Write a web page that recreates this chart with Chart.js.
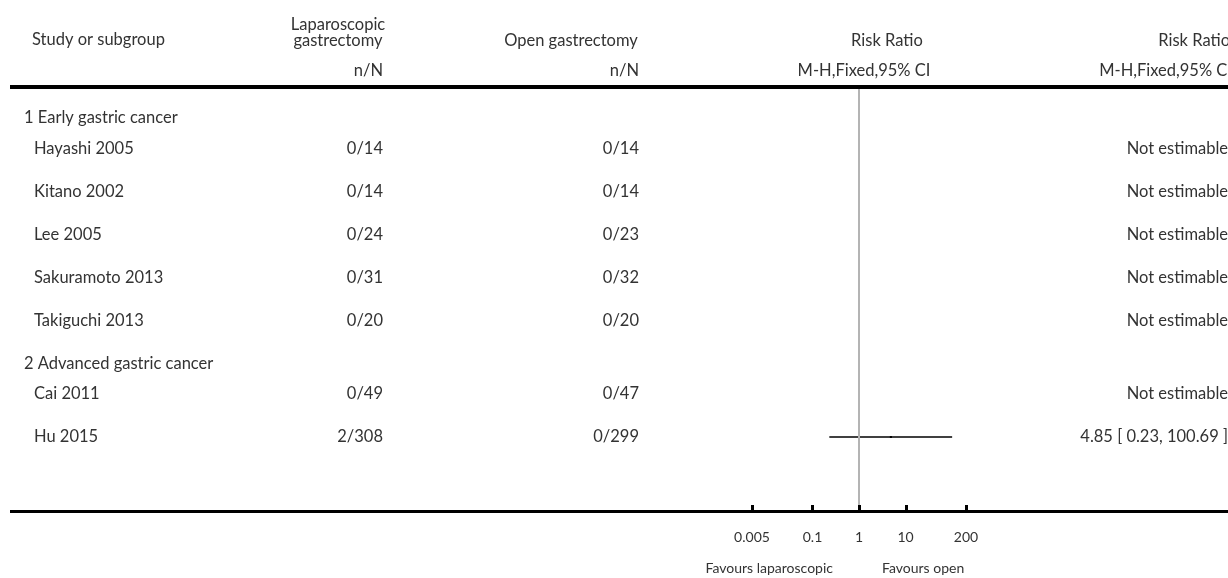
<!DOCTYPE html>
<html>
<head>
<meta charset="utf-8">
<script src="https://cdn.jsdelivr.net/npm/chart.js@4.4.0/dist/chart.umd.min.js"></script>
<style>
  html, body { margin: 0; padding: 0; background: #fff; }
  #wrap { width: 1228px; height: 578px; position: relative; }
</style>
</head>
<body>
<div id="wrap"><canvas id="forest"></canvas></div>
<script>
// data
const subgroups = ["1 Early gastric cancer", "2 Advanced gastric cancer"];
const studyGroup = [0, 0, 0, 0, 0, 1, 1];
const studies = ["Hayashi 2005", "Kitano 2002", "Lee 2005", "Sakuramoto 2013", "Takiguchi 2013", "Cai 2011", "Hu 2015"];
const lapEvents = [0, 0, 0, 0, 0, 0, 2];
const lapTotals = [14, 14, 24, 31, 20, 49, 308];
const openEvents = [0, 0, 0, 0, 0, 0, 0];
const openTotals = [14, 14, 23, 32, 20, 47, 299];
const riskRatio = [null, null, null, null, null, null, 4.85];
const ciLow = [null, null, null, null, null, null, 0.23];
const ciHigh = [null, null, null, null, null, null, 100.69];
const tickValues = [0.005, 0.1, 1, 10, 200];
const tickLabels = ["0.005", "0.1", "1", "10", "200"];

const FONT = '"Lato", "Open Sans", sans-serif';
const TEXT = "#333";
const BODY = "16.5px " + FONT;

// row layout in "row units" (subgroup header rows are shorter than study rows)
const rows = [];
let cursor = 0.7;
let lastGroup = -1;
studies.forEach((name, i) => {
  if (studyGroup[i] !== lastGroup) {
    lastGroup = studyGroup[i];
    rows.push({ type: "group", label: subgroups[lastGroup], y: cursor });
    cursor += 0.7;
  }
  rows.push({ type: "study", i: i, y: cursor });
  cursor += 1;
});
const yMax = 9.81;
const studyY = {};
rows.forEach((r) => { if (r.type === "study") studyY[r.i] = r.y; });

const datasets = [
  {
    label: "no effect",
    data: [{ x: 1, y: 0 }, { x: 1, y: yMax }],
    showLine: true,
    borderColor: "#b4b4b4",
    borderWidth: 2,
    pointRadius: 0,
  },
];
studies.forEach((name, i) => {
  if (riskRatio[i] == null) return;
  datasets.push({
    label: name + " CI",
    data: [{ x: ciLow[i], y: studyY[i] }, { x: ciHigh[i], y: studyY[i] }],
    showLine: true,
    borderColor: "#000",
    borderWidth: 1.4,
    pointRadius: 0,
  });
  datasets.push({
    label: name,
    data: [{ x: riskRatio[i], y: studyY[i] }],
    pointStyle: "rect",
    pointRadius: 1.5,
    backgroundColor: "#000",
    borderColor: "#000",
    borderWidth: 0,
  });
});

const tablePlugin = {
  id: "forestTable",
  afterDraw(chart) {
    const ctx = chart.ctx;
    const xs = chart.scales.x;
    const ys = chart.scales.y;
    const area = chart.chartArea;
    ctx.save();
    ctx.fillStyle = TEXT;
    ctx.textBaseline = "alphabetic";
    ctx.font = BODY;

    // headers
    ctx.textAlign = "left";
    ctx.fillText("Study or subgroup", 32, 45);
    ctx.textAlign = "center";
    ctx.fillText("Laparoscopic", 338, 30);
    ctx.fillText("gastrectomy", 338, 46);
    ctx.fillText("Open gastrectomy", 571, 46);
    ctx.fillText("Risk Ratio", 887, 46);
    ctx.fillText("M-H,Fixed,95% CI", 864, 76);
    ctx.textAlign = "right";
    ctx.fillText("n/N", 383, 76);
    ctx.fillText("n/N", 639, 76);
    ctx.fillText("Risk Ratio", 1230, 46);
    ctx.fillText("M-H,Fixed,95% CI", 1232, 76);

    // rules
    ctx.fillStyle = "#000";
    ctx.fillRect(10, 85, 1218, 4);
    ctx.fillRect(10, Math.round(area.bottom) - 1, 1218, 3);
    tickValues.forEach((v) => {
      const px = Math.round(xs.getPixelForValue(v));
      ctx.fillRect(px - 1, Math.round(area.bottom) - 6, 3, 6);
    });

    // rows
    ctx.fillStyle = TEXT;
    ctx.textBaseline = "middle";
    rows.forEach((r) => {
      const py = ys.getPixelForValue(r.y);
      if (r.type === "group") {
        ctx.textAlign = "left";
        ctx.fillText(r.label, 24, py);
        return;
      }
      const i = r.i;
      ctx.textAlign = "left";
      ctx.fillText(studies[i], 34, py);
      ctx.textAlign = "right";
      ctx.fillText(lapEvents[i] + "/" + lapTotals[i], 383, py);
      ctx.fillText(openEvents[i] + "/" + openTotals[i], 639, py);
      const txt = riskRatio[i] == null
        ? "Not estimable"
        : riskRatio[i].toFixed(2) + " [ " + ciLow[i].toFixed(2) + ", " + ciHigh[i].toFixed(2) + " ]";
      ctx.fillText(txt, 1228, py);
    });

    // favours labels
    const x1 = xs.getPixelForValue(1);
    ctx.font = "14px " + FONT;
    ctx.textBaseline = "alphabetic";
    ctx.textAlign = "right";
    ctx.fillText("Favours laparoscopic", x1 - 26, 573);
    ctx.textAlign = "left";
    ctx.fillText("Favours open", x1 + 23, 573);
    ctx.restore();
  },
};

new Chart(document.getElementById("forest"), {
  type: "scatter",
  data: { datasets },
  options: {
    responsive: true,
    maintainAspectRatio: false,
    animation: false,
    layout: { padding: { left: 752, right: 262, top: 88, bottom: 13.5 } },
    plugins: { legend: { display: false }, tooltip: { enabled: false } },
    scales: {
      x: {
        type: "logarithmic",
        min: 0.005,
        max: 200,
        afterBuildTicks: (scale) => {
          scale.ticks = tickValues.map((v) => ({ value: v }));
        },
        ticks: {
          autoSkip: false,
          maxRotation: 0,
          padding: 18.5,
          color: TEXT,
          font: { family: FONT, size: 14 },
          callback: (value, index) => tickLabels[index],
        },
        grid: { display: false, drawTicks: false },
        border: { display: false },
      },
      y: {
        type: "linear",
        reverse: true,
        min: 0,
        max: yMax,
        display: false,
      },
    },
  },
  plugins: [tablePlugin],
});
</script>
</body>
</html>
